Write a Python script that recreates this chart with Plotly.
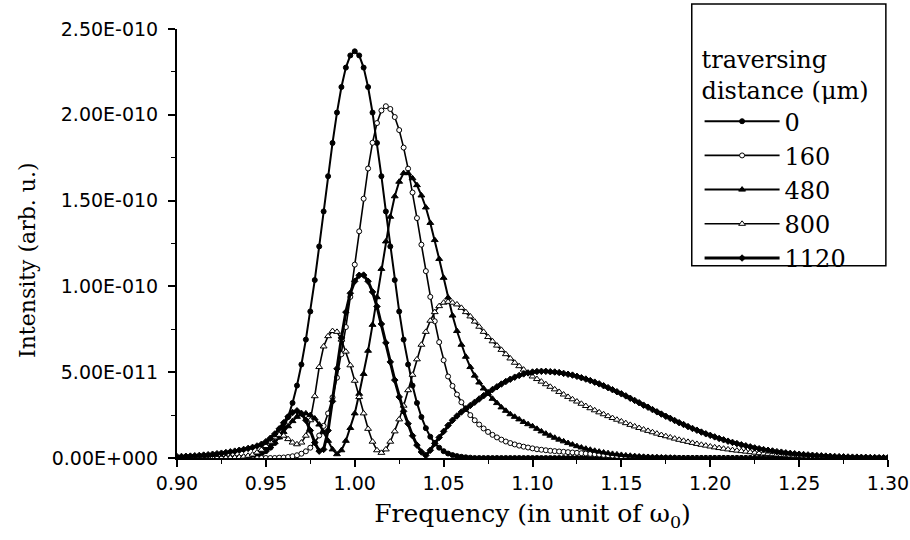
import plotly.graph_objects as go

# Frequency grid (in unit of omega_0), step 0.0025 from 0.90 to 1.30
FREQ = [round(0.90 + 0.0025 * i, 4) for i in range(161)]

# Intensities in units of 1e-11 (arb. u.)
SCALE = 1e-11

I_0 = ([0.0] * 14 +
       [0.02, 0.04, 0.07, 0.11, 0.17, 0.26, 0.40, 0.60, 0.87, 1.24, 1.74, 2.39, 3.21, 4.22,
        5.45, 6.90, 8.54, 10.37, 12.33, 14.37, 16.42, 18.36, 20.13, 21.62, 22.75, 23.46, 23.70,
        23.46, 22.75, 21.62, 20.13, 18.36, 16.42, 14.37, 12.33, 10.37, 8.54, 6.90, 5.45, 4.22,
        3.21, 2.39, 1.74, 1.24, 0.87, 0.60, 0.40, 0.26, 0.17, 0.11, 0.07, 0.04, 0.02] +
       [0.0] * 94)

I_160 = ([0.0] * 23 +
         [0.02, 0.03, 0.06, 0.10, 0.16, 0.25, 0.39, 0.60, 0.90, 1.31, 1.87, 2.60, 3.53, 4.68,
          6.05, 7.63, 9.39, 11.27, 13.21, 15.11, 16.87, 18.37, 19.52, 20.25, 20.5,
          20.34, 19.87, 19.11, 18.09, 16.86, 15.47, 13.98, 12.43, 10.89, 9.39, 7.97, 6.75, 5.7,
          4.75, 4.2, 3.7, 3.25, 2.85, 2.5, 2.2, 1.95, 1.72, 1.52, 1.35, 1.2, 1.07, 0.96, 0.87,
          0.79, 0.72, 0.66, 0.61, 0.56,
          0.51, 0.48, 0.45, 0.42, 0.40, 0.38, 0.36, 0.34, 0.32, 0.30, 0.28, 0.26, 0.24, 0.22,
          0.20, 0.18, 0.16, 0.14, 0.12, 0.10,
          0.09, 0.08, 0.07, 0.06, 0.05, 0.04, 0.03, 0.03, 0.02, 0.02, 0.01, 0.01] +
         [0.0] * 48)

I_480 = ([0.0] * 12 +
         [0.01, 0.02, 0.03, 0.05, 0.09, 0.14, 0.22, 0.33, 0.48, 0.68, 0.92, 1.2, 1.52, 1.85,
          2.15, 2.4, 2.55, 2.6, 2.5, 2.3, 1.95, 1.5, 1.0, 0.5, 0.22, 0.45, 1.0, 1.75, 2.6, 3.74,
          4.9, 6.25, 7.76, 9.37, 11.02, 12.62, 14.06, 15.25, 16.1, 16.6,
          16.6, 16.3, 15.9, 15.3, 14.6, 13.7, 12.7, 11.6, 10.5, 9.35, 8.3, 7.4, 6.6, 5.9, 5.3,
          4.8, 4.4, 4.05, 3.75, 3.45, 3.2, 2.95, 2.75, 2.55, 2.4, 2.25, 2.1, 1.97, 1.85, 1.7,
          1.55, 1.42, 1.3, 1.18, 1.07, 0.97, 0.87, 0.78, 0.69, 0.61, 0.54, 0.48, 0.42, 0.37,
          0.32, 0.28, 0.24, 0.21, 0.18, 0.15, 0.13, 0.11, 0.09, 0.07, 0.06, 0.05, 0.04, 0.03,
          0.02, 0.02, 0.01] +
         [0.0] * 48)

I_800 = ([0.0] * 11 +
         [0.01, 0.02, 0.03, 0.05, 0.08, 0.13, 0.2, 0.32, 0.48, 0.7, 0.95, 1.2, 1.35, 1.3, 1.1,
          0.9, 0.8, 0.9, 1.3, 2.2, 3.6, 5.3, 6.5, 7.1, 7.4, 7.35, 6.9, 6.2, 5.4, 4.5, 3.55, 2.6,
          1.7, 0.95, 0.45, 0.3, 0.5, 0.95, 1.55, 2.25, 3.05, 3.95, 4.85, 5.75, 6.6, 7.35, 8.0,
          8.5, 8.85, 9.05, 9.1, 9.05, 8.95, 8.75, 8.5, 8.25, 7.95, 7.65, 7.35, 7.05, 6.8, 6.55,
          6.3, 6.05, 5.8, 5.55, 5.35, 5.15, 4.95, 4.75, 4.6, 4.45, 4.3, 4.15, 4.0, 3.85, 3.7,
          3.56, 3.42, 3.29, 3.16, 3.03, 2.9, 2.78, 2.66, 2.55, 2.44, 2.33, 2.23, 2.13, 2.03,
          1.93, 1.84, 1.75, 1.66, 1.58, 1.5, 1.42, 1.34, 1.27, 1.2, 1.13, 1.06, 1.0, 0.94, 0.88,
          0.82, 0.77, 0.72, 0.67, 0.62, 0.58, 0.54, 0.5, 0.46, 0.43, 0.4, 0.37, 0.34, 0.31,
          0.28, 0.26, 0.24, 0.22, 0.2, 0.18, 0.16, 0.14, 0.13, 0.11, 0.1, 0.09, 0.08, 0.07,
          0.06, 0.05, 0.04, 0.03, 0.03, 0.02, 0.02, 0.01] +
         [0.0] * 8)

I_1120 = [0.08, 0.09, 0.1, 0.11, 0.13, 0.15, 0.17, 0.19, 0.22, 0.25, 0.28, 0.32, 0.36, 0.4,
          0.45, 0.5, 0.56, 0.62, 0.7, 0.8, 0.95, 1.15, 1.4, 1.7, 2.05, 2.4, 2.65, 2.75, 2.6,
          2.2, 1.6, 0.9, 0.4, 0.5, 1.6, 3.3, 5.2, 7.0, 8.5, 9.6, 10.3, 10.65, 10.66, 10.3, 9.68,
          8.83, 7.81, 6.71, 5.6, 4.54, 3.56, 2.72, 2.0, 1.3, 0.75, 0.35, 0.15, 0.45, 0.85, 1.2,
          1.55, 1.9, 2.2, 2.45, 2.68, 2.87, 3.06, 3.25, 3.44, 3.63, 3.81, 3.99, 4.15, 4.31,
          4.46, 4.59, 4.71, 4.81, 4.9, 4.96, 5.01, 5.04, 5.05, 5.05, 5.03, 5.01, 4.98, 4.93,
          4.88, 4.83, 4.76, 4.68, 4.6, 4.51, 4.42, 4.32, 4.21, 4.1, 3.98, 3.86, 3.74, 3.62,
          3.48, 3.35, 3.22, 3.08, 2.96, 2.82, 2.69, 2.56, 2.43, 2.31, 2.18, 2.06, 1.95, 1.83,
          1.72, 1.62, 1.51, 1.41, 1.32, 1.23, 1.14, 1.06, 0.98, 0.91, 0.84, 0.77, 0.71, 0.65,
          0.59, 0.54, 0.49, 0.45, 0.41, 0.37, 0.34, 0.3, 0.27, 0.25, 0.22, 0.2, 0.18, 0.16,
          0.14, 0.13, 0.11, 0.1, 0.09, 0.08, 0.07, 0.06, 0.05, 0.05, 0.04, 0.04, 0.03, 0.03,
          0.02, 0.02, 0.02]

SERIES_NAMES = ["0", "160", "480", "800", "1120"]
SERIES = [I_0, I_160, I_480, I_800, I_1120]

X_TICKS = [0.90, 0.95, 1.00, 1.05, 1.10, 1.15, 1.20, 1.25, 1.30]
Y_TICKS = [0, 5e-11, 1e-10, 1.5e-10, 2e-10, 2.5e-10]
Y_TICK_TEXT = ["0.00E+000", "5.00E-011", "1.00E-010", "1.50E-010", "2.00E-010", "2.50E-010"]

styles = [
    dict(symbol="circle", size=5, color="black", lw=2.0),
    dict(symbol="circle", size=5, color="white", lw=1.6),
    dict(symbol="triangle-up", size=6, color="black", lw=2.0),
    dict(symbol="triangle-up", size=6, color="white", lw=1.6),
    dict(symbol="diamond", size=5, color="black", lw=3.0),
]

fig = go.Figure()
for name, vals, st in zip(SERIES_NAMES, SERIES, styles):
    n = min(len(FREQ), len(vals))
    fig.add_trace(go.Scatter(
        x=FREQ[:n], y=[v * SCALE for v in vals[:n]], name=name,
        mode="lines+markers",
        line=dict(color="black", width=st["lw"]),
        marker=dict(symbol=st["symbol"], size=st["size"], color=st["color"],
                    line=dict(color="black", width=1)),
    ))

SERIF = "DejaVu Serif"
SANS = "DejaVu Sans"

fig.update_layout(
    width=910, height=540,
    margin=dict(l=177, r=22, t=29, b=82, autoexpand=False),
    paper_bgcolor="white", plot_bgcolor="white",
    font=dict(family=SANS, color="black"),
    showlegend=True,
    legend=dict(
        x=0.735, y=0.982, xanchor="left", yanchor="top",
        bgcolor="rgba(0,0,0,0)", borderwidth=0,
        font=dict(family=SERIF, size=24, color="black"),
        title=dict(text="traversing<br>distance (μm)",
                   font=dict(family=SERIF, size=24, color="black")),
        itemwidth=75, tracegroupgap=0,
    ),
    shapes=[dict(type="rect", xref="paper", yref="paper",
                 x0=0.724, x1=0.997, y0=0.448, y1=1.058,
                 line=dict(color="black", width=1.5), fillcolor="rgba(0,0,0,0)")],
    annotations=[dict(text="Intensity (arb. u.)", xref="paper", yref="paper",
                      x=-0.211, y=0.4615, xanchor="center", yanchor="middle",
                      textangle=-90, showarrow=False,
                      font=dict(family=SERIF, size=22, color="black"))],
)

fig.update_xaxes(
    range=[0.9, 1.3], automargin=False,
    showline=True, linecolor="black", linewidth=2, mirror=False,
    showgrid=False, zeroline=False,
    tickmode="array", tickvals=X_TICKS, ticktext=[f"{v:.2f}" for v in X_TICKS],
    ticks="outside", ticklen=7, tickwidth=1.5, tickcolor="black",
    minor=dict(dtick=0.025, tick0=0.9, ticks="outside", ticklen=4, tickwidth=1.2, tickcolor="black"),
    tickfont=dict(family=SANS, size=19, color="black"),
    title=dict(text="Frequency (in unit of ω<sub>0</sub>)", standoff=12,
               font=dict(family=SERIF, size=25, color="black")),
)
fig.update_yaxes(
    range=[0, 2.5e-10], automargin=False,
    showline=True, linecolor="black", linewidth=2, mirror=False,
    showgrid=False, zeroline=False,
    tickmode="array", tickvals=Y_TICKS, ticktext=Y_TICK_TEXT,
    ticks="outside", ticklen=7, tickwidth=1.5, tickcolor="black",
    ticklabelstandoff=6,
    minor=dict(dtick=2.5e-11, tick0=0, ticks="outside", ticklen=4, tickwidth=1.2, tickcolor="black"),
    tickfont=dict(family=SANS, size=19, color="black"),
)

# remove the default 8px page margin so the 910x540 figure fills the window exactly
fig.write_html("out.html", config={"displayModeBar": False},
               post_script="document.body.style.margin='0px';")
